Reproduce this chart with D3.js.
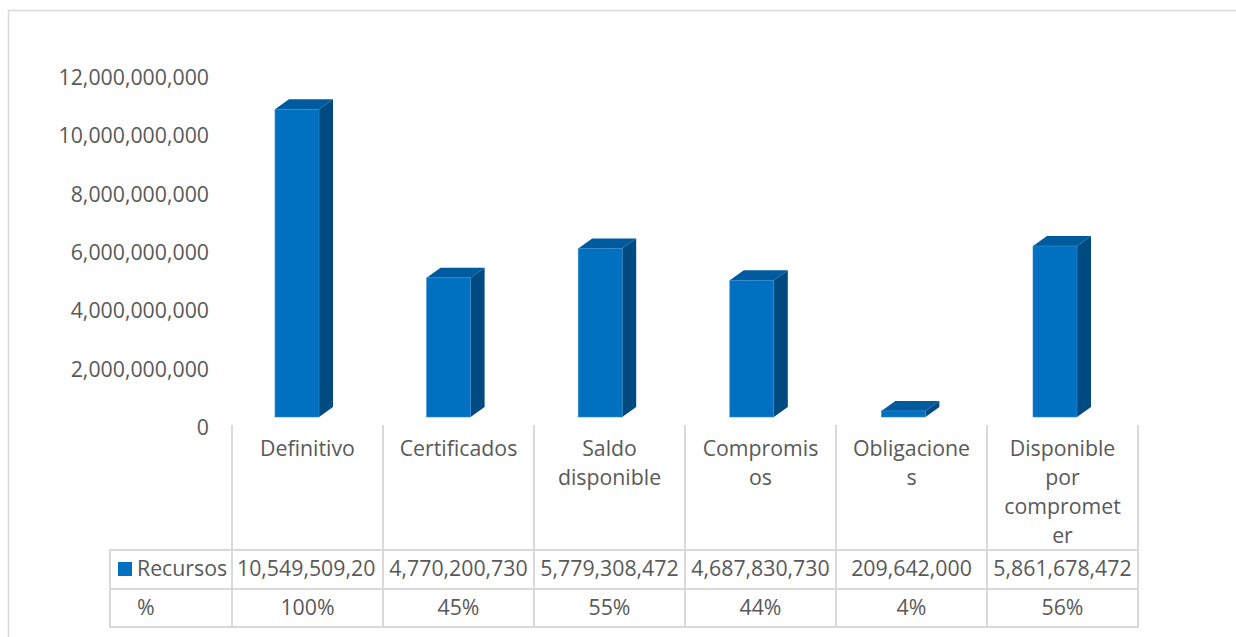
<!DOCTYPE html>
<html>
<head>
<meta charset="utf-8">
<script src="https://cdn.jsdelivr.net/npm/d3@7"></script>
<style>
  html, body { margin: 0; padding: 0; background: #fff; }
  svg { display: block; }
  text { font-family: "Open Sans", sans-serif; fill: #595959; }
</style>
</head>
<body>
<div id="chart"></div>
<script>
// ---- data ----
const categories = ["Definitivo", "Certificados", "Saldo disponible", "Compromisos", "Obligaciones", "Disponible por comprometer"];
const categoryLines = [["Definitivo"], ["Certificados"], ["Saldo", "disponible"], ["Compromis", "os"], ["Obligacione", "s"], ["Disponible", "por", "compromet", "er"]];
const recursos = [10549509202, 4770200730, 5779308472, 4687830730, 209642000, 5861678472];
const percents = ["100%", "45%", "55%", "44%", "4%", "56%"];
const seriesName = "Recursos";
const percentRowLabel = "%";
const yTicks = [0, 2000000000, 4000000000, 6000000000, 8000000000, 10000000000, 12000000000];

// ---- layout ----
const W = 1236, H = 637;
const fontSize = 21.3;
const gridColor = "#d9d9d9";
const colFront = "#0070c0", colTop = "#005a9e", colSide = "#004a82";

const svg = d3.select("#chart").append("svg").attr("width", W).attr("height", H);

// outer chart border
svg.append("rect").attr("x", 8.5).attr("y", 10.5).attr("width", W + 20).attr("height", H + 20)
  .attr("fill", "none").attr("stroke", gridColor).attr("stroke-width", 1.5);

const x = d3.scaleBand().domain(categories).range([232, 1138]).padding(0);
const yAxisScale = d3.scaleLinear().domain([0, 12000000000]).range([427, 77]);
const depthX = 14, depthY = 10;
const yBar = d3.scaleLinear().domain([0, 12000000000]).range([417, 67]);

// y axis labels (no line)
const fmt = d3.format(",");
const yAxis = d3.axisLeft(yAxisScale).tickValues(yTicks).tickFormat(fmt).tickSize(0).tickPadding(0);
const gy = svg.append("g").attr("transform", "translate(209,0)").call(yAxis);
gy.select(".domain").remove();
gy.selectAll("text").style("font-size", fontSize + "px").style("font-family", "'Open Sans', sans-serif").attr("fill", "#595959").attr("dy", "0.35em");

// bars (3D look, slight perspective shift across the chart)
const barW = 44;
const bars = svg.append("g").selectAll("g").data(categories).join("g");
bars.each(function(c, i) {
  const g = d3.select(this);
  const x0 = x(c) + x.bandwidth() / 2 - 32.5 + i * 0.6;
  const x1 = x0 + barW;
  const yt = yBar(recursos[i]);
  const yb = yBar(0);
  // side
  g.append("path").attr("d", `M${x1},${yb} L${x1 + depthX},${yb - depthY} L${x1 + depthX},${yt - depthY} L${x1},${yt} Z`)
    .attr("fill", colSide);
  // top
  g.append("path").attr("d", `M${x0},${yt} L${x0 + depthX},${yt - depthY} L${x1 + depthX},${yt - depthY} L${x1},${yt} Z`)
    .attr("fill", colTop);
  // front
  g.append("rect").attr("x", x0).attr("y", yt).attr("width", barW).attr("height", yb - yt)
    .attr("fill", colFront).attr("stroke", "#3a8bd0").attr("stroke-width", 0.6);
});

// data table grid
const grid = svg.append("g").attr("stroke", gridColor).attr("stroke-width", 2).attr("fill", "none");
const colEdges = categories.map(c => x(c)).concat([x(categories[categories.length - 1]) + x.bandwidth()]);
const tableTop = 425, hdrBottom = 550, row1Bottom = 589, row2Bottom = 627, tableLeft = 110;
colEdges.forEach(e => grid.append("line").attr("x1", e).attr("x2", e).attr("y1", tableTop).attr("y2", row2Bottom));
grid.append("line").attr("x1", tableLeft).attr("x2", tableLeft).attr("y1", hdrBottom).attr("y2", row2Bottom);
[hdrBottom, row1Bottom, row2Bottom].forEach(yy => grid.append("line").attr("x1", tableLeft - 1).attr("x2", colEdges[colEdges.length - 1] + 1).attr("y1", yy).attr("y2", yy));

// category labels (wrapped)
const lineH = 29;
categories.forEach((c, i) => {
  const t = svg.append("text").attr("text-anchor", "middle").style("font-size", fontSize + "px");
  categoryLines[i].forEach((ln, k) => {
    t.append("tspan").attr("x", x(c) + x.bandwidth() / 2).attr("y", 449 + k * lineH).attr("dy", "0.35em").text(ln);
  });
});

// legend key + row labels
svg.append("rect").attr("x", 118).attr("y", 562).attr("width", 14).attr("height", 14).attr("fill", colFront);
svg.append("text").attr("x", 137).attr("y", 569).attr("dy", "0.35em").style("font-size", fontSize + "px").text(seriesName);
svg.append("text").attr("x", 137).attr("y", 608).attr("dy", "0.35em").style("font-size", fontSize + "px").text(percentRowLabel);

// table values
categories.forEach((c, i) => {
  const cx = x(c) + x.bandwidth() / 2;
  const t = svg.append("text").attr("x", cx).attr("y", 569).attr("dy", "0.35em")
    .attr("text-anchor", "middle").style("font-size", fontSize + "px").text(fmt(recursos[i]));
  const avail = x.bandwidth() - 8;
  let s = fmt(recursos[i]);
  if (t.node().getComputedTextLength() > avail) {
    while (s.length > 1 && t.node().getComputedTextLength() > avail) {
      s = s.slice(0, -1);
      t.text(s);
    }
    t.attr("text-anchor", "start").attr("x", x(c) + 5);
  }
  svg.append("text").attr("x", cx).attr("y", 608).attr("dy", "0.35em")
    .attr("text-anchor", "middle").style("font-size", fontSize + "px").text(percents[i]);
});
</script>
</body>
</html>
